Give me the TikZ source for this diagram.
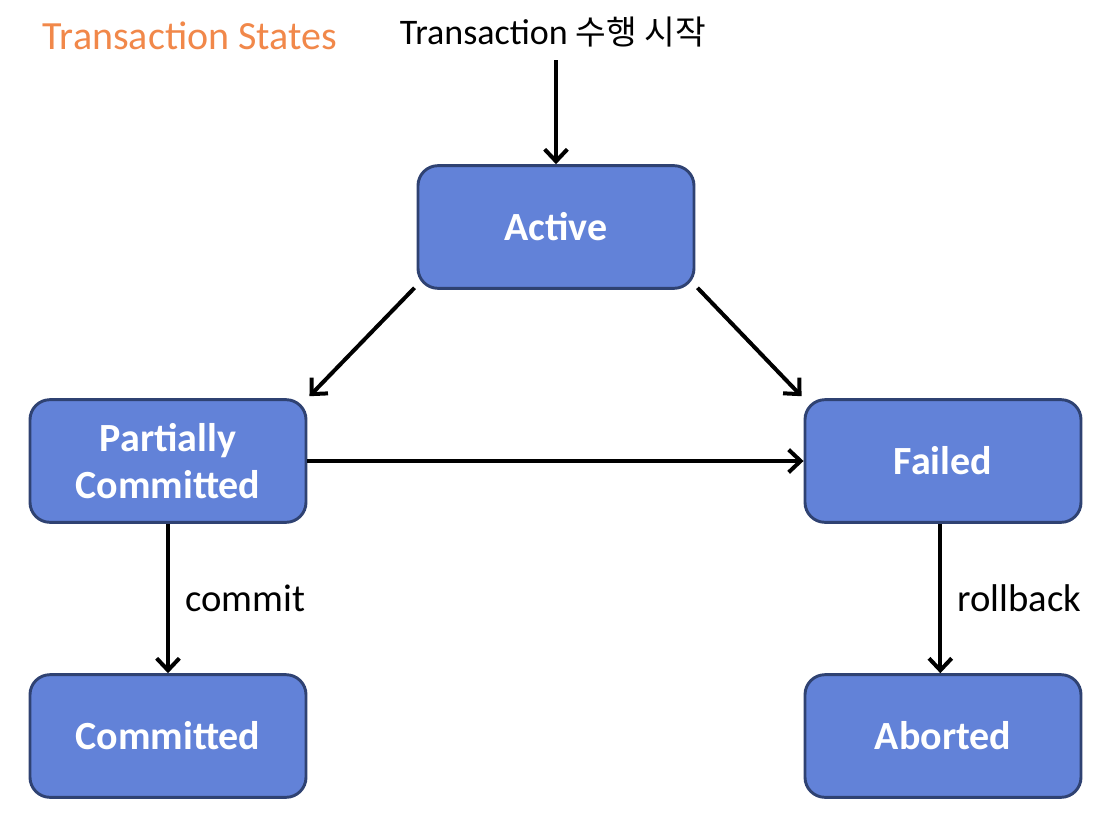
\documentclass[tikz,border=0pt]{standalone}
\usepackage{fontspec}
\setmainfont{Carlito}
\newfontfamily\kofont{Noto Sans CJK KR}
\usetikzlibrary{arrows.meta}
\definecolor{boxblue}{RGB}{98,130,216}
\definecolor{boxline}{RGB}{47,66,114}
\definecolor{titleorange}{RGB}{241,136,74}
\tikzset{
  state/.style={draw=boxline, line width=2.2pt, fill=boxblue, rounded corners=15pt,
    minimum width=207pt, minimum height=92pt, text=white, align=center,
    font=\fontsize{30}{35}\selectfont\bfseries},
  flow/.style={line width=3pt, -{Straight Barb[length=9pt,width=17pt,line width=3pt]}},
  lbl/.style={font=\fontsize{29}{33}\selectfont}
}
\begin{document}
\begin{tikzpicture}[x=0.75pt,y=-0.75pt]
\useasboundingbox (0,0) rectangle (1111,825);
%\draw [lightgray](0,0) grid[step=100] (1111,825);
\node [lbl, text=titleorange, font=\fontsize{30}{35}\selectfont] (title) at (190,36) {Transaction States};
\node [lbl, font=\fontsize{27}{31}\selectfont] (start) at (553,32) {Transaction {\kofont\fontsize{25}{30}\selectfont 수행 시작}};
\coordinate (top) at (556,60);

\node [state] (active)  at (556,227) {Active};
\node [state] (partial) at (168,461) {Partially\\Committed};
\node [state] (failed)  at (943,461) {Failed};
\node [state] (commit)  at (168,736) {Committed};
\node [state] (abort)   at (943,736) {Aborted};

\draw [flow] (top) -- (active.north);
\draw [flow] ([shift={(-2,-2)}]active.south west) -- ([shift={(2,-2)}]partial.north east);
\draw [flow] ([shift={(2,-2)}]active.south east) -- ([shift={(-2,-2)}]failed.north west);
\draw [flow] (partial.east) -- (failed.west);
\draw [flow] (partial.south) -- node[lbl, right, xshift=8pt]{commit} (commit.north);
\draw [flow] ([xshift=-2pt]failed.south) -- node[lbl, right, xshift=8pt]{rollback} ([xshift=-2pt]abort.north);
\end{tikzpicture}
\end{document}
